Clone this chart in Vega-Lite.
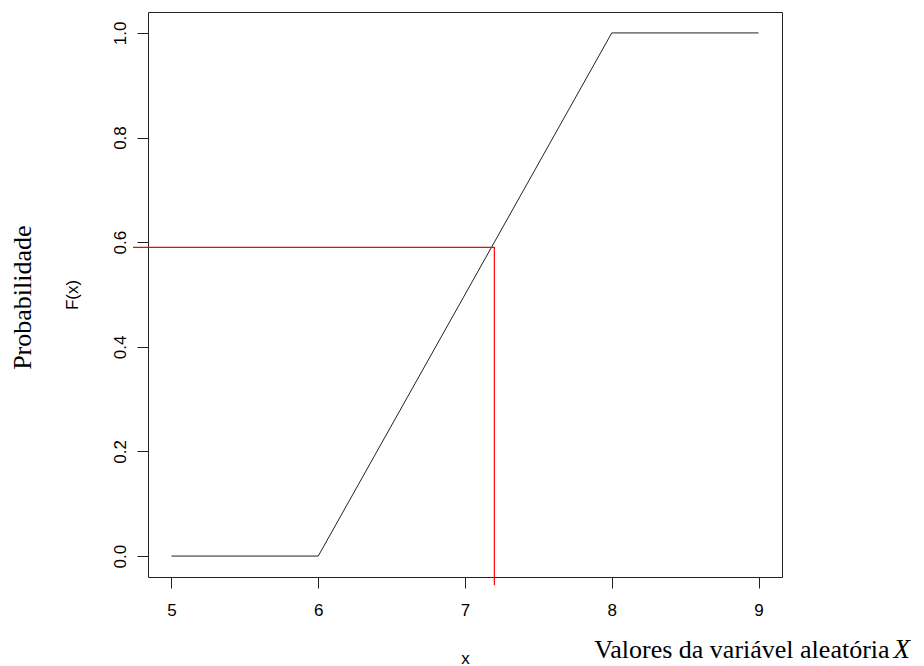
{
  "$schema": "https://vega.github.io/schema/vega-lite/v6.json",
  "autosize": {"type": "none"},
  "padding": {"left": 148, "top": 12, "right": 142, "bottom": 89},
  "width": 634,
  "height": 565,
  "background": "white",
  "config": {
    "view": {"stroke": "#222", "strokeWidth": 1},
    "axis": {
      "grid": false,
      "domain": false,
      "tickColor": "#222",
      "tickSize": 11,
      "labelColor": "#000",
      "labelFont": "Liberation Sans",
      "labelFontSize": 17,
      "titleFont": "Liberation Sans",
      "titleFontSize": 17,
      "titleFontWeight": "normal",
      "titleColor": "#000"
    }
  },
  "datasets": {
    "cdf": [
      {"x": 5, "F": 0},
      {"x": 6, "F": 0},
      {"x": 8, "F": 1},
      {"x": 9, "F": 1}
    ],
    "guide": [
      {"x": 4.738, "F": 0.59, "o": 1},
      {"x": 7.2, "F": 0.59, "o": 2},
      {"x": 7.2, "F": -0.056, "o": 3}
    ],
    "ylab": [{"x": 3.986, "F": 0.494, "t": "Probabilidade"}],
    "xlab": [{"x": 9.893, "F": -0.194, "t": "Valores da variável aleatória"}],
    "xlabX": [{"x": 9.92, "F": -0.194, "t": "X"}]
  },
  "layer": [
    {
      "data": {"name": "cdf"},
      "mark": {"type": "line", "color": "#222", "strokeWidth": 1},
      "encoding": {
        "x": {
          "field": "x",
          "type": "quantitative",
          "scale": {"domain": [4.84, 9.16], "nice": false, "zero": false},
          "axis": {"values": [5, 6, 7, 8, 9], "title": "x", "labelPadding": 14, "titlePadding": 32, "format": "d"}
        },
        "y": {
          "field": "F",
          "type": "quantitative",
          "scale": {"domain": [-0.04, 1.04], "nice": false, "zero": false},
          "axis": {
            "values": [0, 0.2, 0.4, 0.6, 0.8, 1.0],
            "format": ".1f",
            "title": "F(x)",
            "labelAngle": 270,
            "labelAlign": "center",
            "labelBaseline": "alphabetic",
            "labelPadding": 12,
            "titlePadding": 30
          }
        }
      }
    },
    {
      "data": {"name": "guide"},
      "mark": {"type": "line", "color": "#ff0000", "strokeWidth": 1.2, "clip": false},
      "encoding": {
        "x": {"field": "x", "type": "quantitative"},
        "y": {"field": "F", "type": "quantitative"},
        "order": {"field": "o"}
      }
    },
    {
      "data": {"name": "ylab"},
      "mark": {"type": "text", "font": "Liberation Serif", "fontSize": 26, "angle": 270, "align": "center", "baseline": "middle", "color": "#000"},
      "encoding": {
        "x": {"field": "x", "type": "quantitative"},
        "y": {"field": "F", "type": "quantitative"},
        "text": {"field": "t"}
      }
    },
    {
      "data": {"name": "xlab"},
      "mark": {"type": "text", "font": "Liberation Serif", "fontSize": 26, "align": "right", "baseline": "alphabetic", "color": "#000"},
      "encoding": {
        "x": {"field": "x", "type": "quantitative"},
        "y": {"field": "F", "type": "quantitative"},
        "text": {"field": "t"}
      }
    },
    {
      "data": {"name": "xlabX"},
      "mark": {"type": "text", "font": "Liberation Serif", "fontSize": 27, "fontStyle": "italic", "align": "left", "baseline": "alphabetic", "color": "#000"},
      "encoding": {
        "x": {"field": "x", "type": "quantitative"},
        "y": {"field": "F", "type": "quantitative"},
        "text": {"field": "t"}
      }
    }
  ]
}
